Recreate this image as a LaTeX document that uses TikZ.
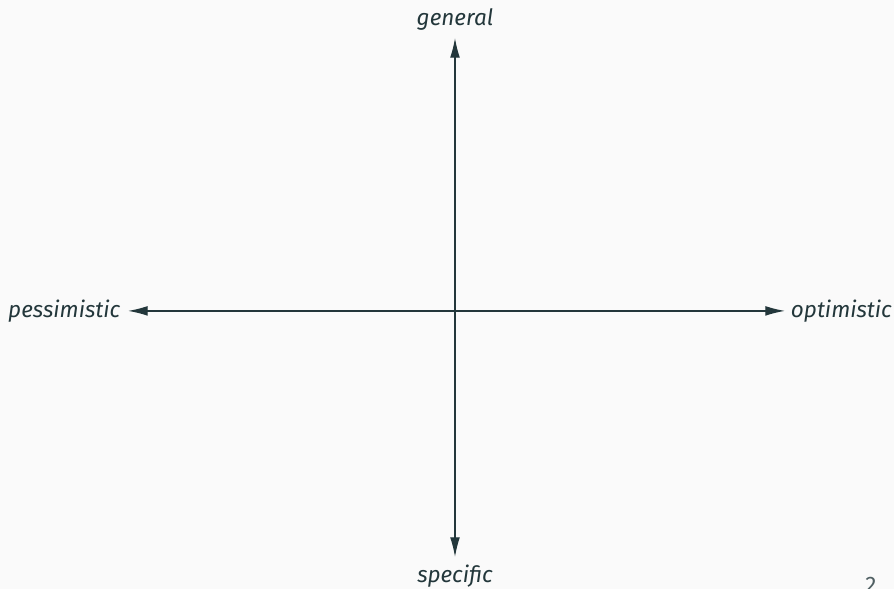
\documentclass[tikz,border=0pt]{standalone}
\usepackage{fontspec}
\setmainfont{Fira Sans}
\usetikzlibrary{arrows.meta, positioning}
\definecolor{darkteal}{HTML}{23373B}
\definecolor{pagebg}{HTML}{FAFAFA}

\begin{document}
\begin{tikzpicture}[
    axislabel/.style={text=darkteal, font=\fontsize{6.4}{7.5}\selectfont\itshape, inner sep=2pt},
    axis/.style={{Latex[length=5.6pt,width=2.8pt]}-{Latex[length=5.6pt,width=2.8pt]}, line width=0.38pt, draw=darkteal}
]
    \fill[pagebg] (0,0) rectangle (8.94,5.89);
    \useasboundingbox (0,0) rectangle (8.94,5.89);

    \node[axislabel, anchor=south] (gen) at (4.55,5.51) {general};
    \node[axislabel, anchor=north] (spec) at (4.55,0.32) {specific};
    \node[axislabel, anchor=mid east] (pess) at (1.28,2.81) {pessimistic};
    \node[axislabel, anchor=mid west, inner sep=1.5pt] (opt) at (7.85,2.81) {optimistic};

    \draw[axis] (gen) -- (spec);
    \draw[axis] (pess) -- (opt);

    \node[text=darkteal!80, font=\fontsize{6.4}{7.5}\selectfont, anchor=north, inner sep=0pt] (page) at (8.71,0.12) {2};
\end{tikzpicture}
\end{document}
